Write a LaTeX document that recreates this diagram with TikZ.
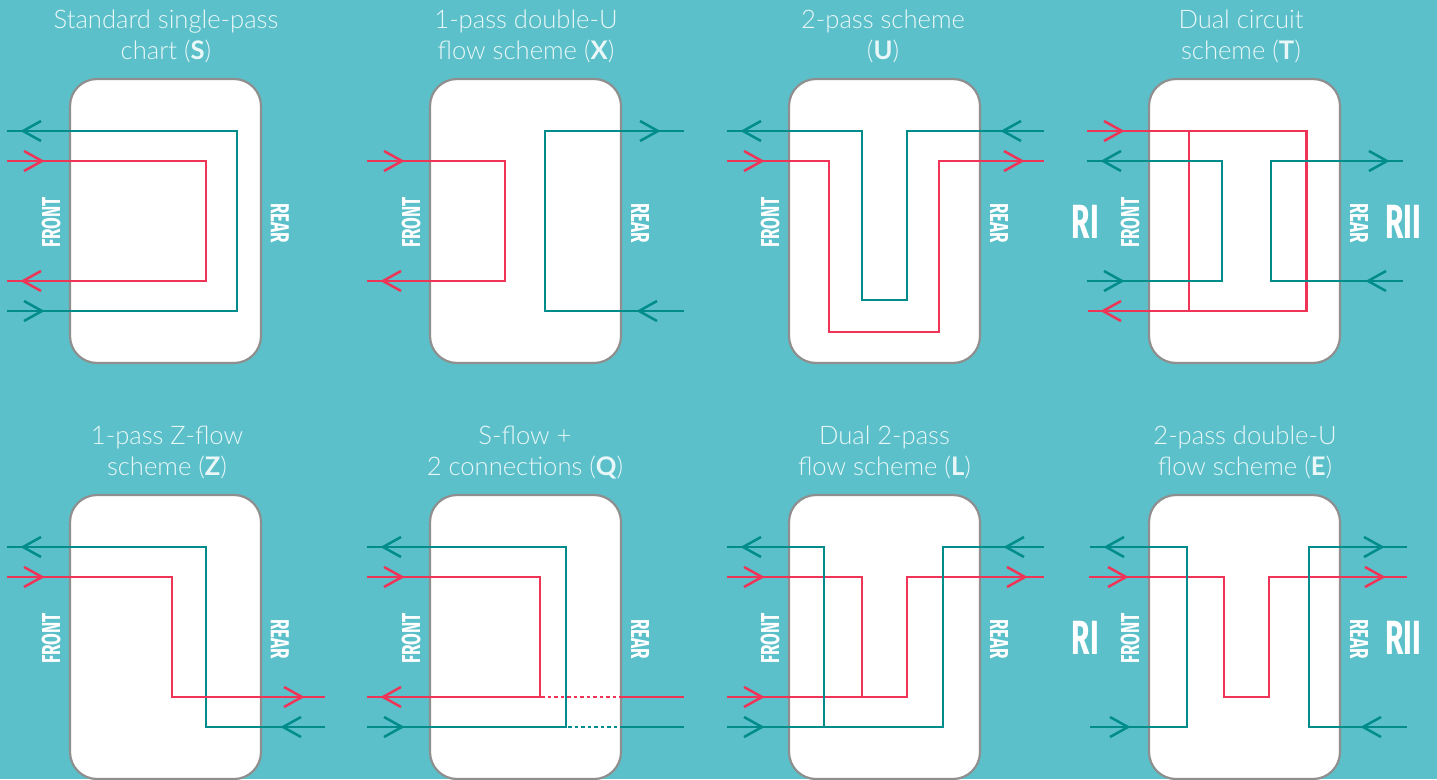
\documentclass[tikz,border=0pt]{standalone}
\usepackage{fontspec}
\setmainfont{Lato}[UprightFont=* Light,BoldFont=* Bold]
\newfontfamily\narrowfont{Fira Sans}
\definecolor{bgcol}{HTML}{5BC0C9}
\definecolor{tealcol}{HTML}{008C8A}
\definecolor{redcol}{HTML}{EE3558}
\definecolor{boxcol}{HTML}{8F8F8F}
\definecolor{titlecol}{HTML}{EAF7F8}
\tikzset{
  plate/.style={draw=boxcol,fill=white,line width=2.2pt,rounded corners=27pt},
  tline/.style={draw=tealcol,line width=2.5pt,line join=miter},
  rline/.style={draw=redcol,line width=2.5pt,line join=miter},
  tdot/.style={tline,dash pattern=on 3.5pt off 3pt},
  rdot/.style={rline,dash pattern=on 3.5pt off 3pt},
  title/.style={text=titlecol,font=\fontsize{25.6}{25.6}\selectfont,inner sep=0pt,anchor=base},
  side/.style={text=white,font=\narrowfont\bfseries\fontsize{26}{26}\selectfont,inner sep=0pt,xscale=0.65,transform shape},
  circ/.style={text=white,font=\narrowfont\bfseries\fontsize{48}{48}\selectfont,inner sep=0pt,xscale=0.62,transform shape},
}
% #1 left edge, #2 top edge, #3 name, #4 title centre, #5 and #6 title lines
\newcommand{\plate}[6]{
  \draw[plate] (#1,#2) rectangle (#1+191,#2+284);
  \node[title] (#3a) at (#4,#2-51) {#5};
  \node[title] (#3b) at (#4,#2-19.5) {#6};
  \node[rotate=90,side] (#3f) at (#1-19,#2+143.5) {FRONT};
  \node[rotate=-90,side] (#3r) at (#1+210,#2+144) {REAR};
}
\newcommand{\rarr}[3]{\draw[#3] (#1-18,#2-10) -- (#1,#2) -- (#1-18,#2+10);}
\newcommand{\larr}[3]{\draw[#3] (#1+18,#2-10) -- (#1,#2) -- (#1+18,#2+10);}
\begin{document}
\begin{tikzpicture}[x=1pt,y=-1pt]
  \useasboundingbox[fill=bgcol] (0,0) rectangle (1437,779);
  \plate{70}{79}{s}{166}{Standard single-pass}{chart (\textbf{S})}
  \plate{430}{79}{x}{526}{1-pass double-U}{flow scheme (\textbf{X})}
  \plate{789}{79}{u}{883}{2-pass scheme}{(\textbf{U})}
  \plate{1149}{79}{t}{1241}{Dual circuit}{scheme (\textbf{T})}
  \plate{70}{495}{z}{167}{1-pass Z-flow}{scheme (\textbf{Z})}
  \plate{430}{495}{q}{525}{S-flow +}{2 connections (\textbf{Q})}
  \plate{789}{495}{l}{884.5}{Dual 2-pass}{flow scheme (\textbf{L})}
  \plate{1149}{495}{e}{1245}{2-pass double-U}{flow scheme (\textbf{E})}
  \node[circ] (ri1) at (1085.5,222) {RI};
  \node[circ] (rii1) at (1403.5,222) {RII};
  \node[circ] (ri2) at (1085.5,638) {RI};
  \node[circ] (rii2) at (1403.5,638) {RII};
  % S
  \draw[tline] (7,131) -- (237,131) -- (237,311) -- (7,311);
  \draw[rline] (7,161) -- (206,161) -- (206,281) -- (7,281);
  \larr{23}{131}{tline} \rarr{42}{161}{rline} \larr{23}{281}{rline} \rarr{42}{311}{tline}
  % X
  \draw[rline] (367,161) -- (505,161) -- (505,281) -- (367,281);
  \draw[tline] (684,131) -- (545,131) -- (545,311) -- (684,311);
  \rarr{402}{161}{rline} \larr{383}{281}{rline} \rarr{658}{131}{tline} \larr{639}{311}{tline}
  % U
  \draw[tline] (727,131) -- (862,131) -- (862,300) -- (907,300) -- (907,131) -- (1044,131);
  \draw[rline] (727,161) -- (829,161) -- (829,332) -- (939,332) -- (939,161) -- (1044,161);
  \larr{743}{131}{tline} \rarr{762}{161}{rline} \larr{1003}{131}{tline} \rarr{1022}{161}{rline}
  % T
  \draw[rline] (1087,131) -- (1306.5,131) -- (1306.5,311) -- (1088,311);
  \draw[rline] (1189,131) -- (1189,311);
  \draw[tline] (1087,161) -- (1222,161) -- (1222,281) -- (1087,281);
  \draw[tline] (1403,161) -- (1271,161) -- (1271,281) -- (1403,281);
  \rarr{1122}{131}{rline} \larr{1103}{161}{tline} \rarr{1122}{281}{tline} \larr{1103}{311}{rline}
  \rarr{1387}{161}{tline} \larr{1368}{281}{tline}
  % Z
  \draw[tline] (7,547) -- (206,547) -- (206,727) -- (325,727);
  \draw[rline] (7,577) -- (172,577) -- (172,697) -- (325,697);
  \larr{23}{547}{tline} \rarr{42}{577}{rline} \rarr{302}{697}{rline} \larr{283}{727}{tline}
  % Q
  \draw[tline] (367,547) -- (566,547) -- (566,727) -- (367,727);
  \draw[rline] (367,577) -- (540,577) -- (540,697) -- (367,697);
  \draw[rdot] (541,697) -- (621,697);
  \draw[tdot] (568,727) -- (621,727);
  \draw[rline] (621,697) -- (684,697);
  \draw[tline] (621,727) -- (684,727);
  \larr{383}{547}{tline} \rarr{402}{577}{rline} \larr{383}{697}{rline} \rarr{402}{727}{tline}
  % L
  \draw[rline] (727,577) -- (862,577) -- (862,697);
  \draw[rline] (727,697) -- (907,697) -- (907,577) -- (1044,577);
  \draw[tline] (727,547) -- (824,547) -- (824,727);
  \draw[tline] (727,727) -- (943,727) -- (943,547) -- (1044,547);
  \larr{743}{547}{tline} \rarr{762}{577}{rline} \rarr{762}{697}{rline} \rarr{762}{727}{tline}
  \larr{1006}{547}{tline} \rarr{1025}{577}{rline}
  % E
  \draw[rline] (1089,577) -- (1224,577) -- (1224,697) -- (1269,697) -- (1269,577) -- (1407,577);
  \draw[tline] (1090,547) -- (1187,547) -- (1187,727) -- (1090,727);
  \draw[tline] (1407,547) -- (1309,547) -- (1309,727) -- (1407,727);
  \larr{1106}{547}{tline} \rarr{1126}{577}{rline} \rarr{1128}{727}{tline}
  \rarr{1382}{547}{tline} \rarr{1383}{577}{rline} \larr{1363}{727}{tline}
\end{tikzpicture}
\end{document}
